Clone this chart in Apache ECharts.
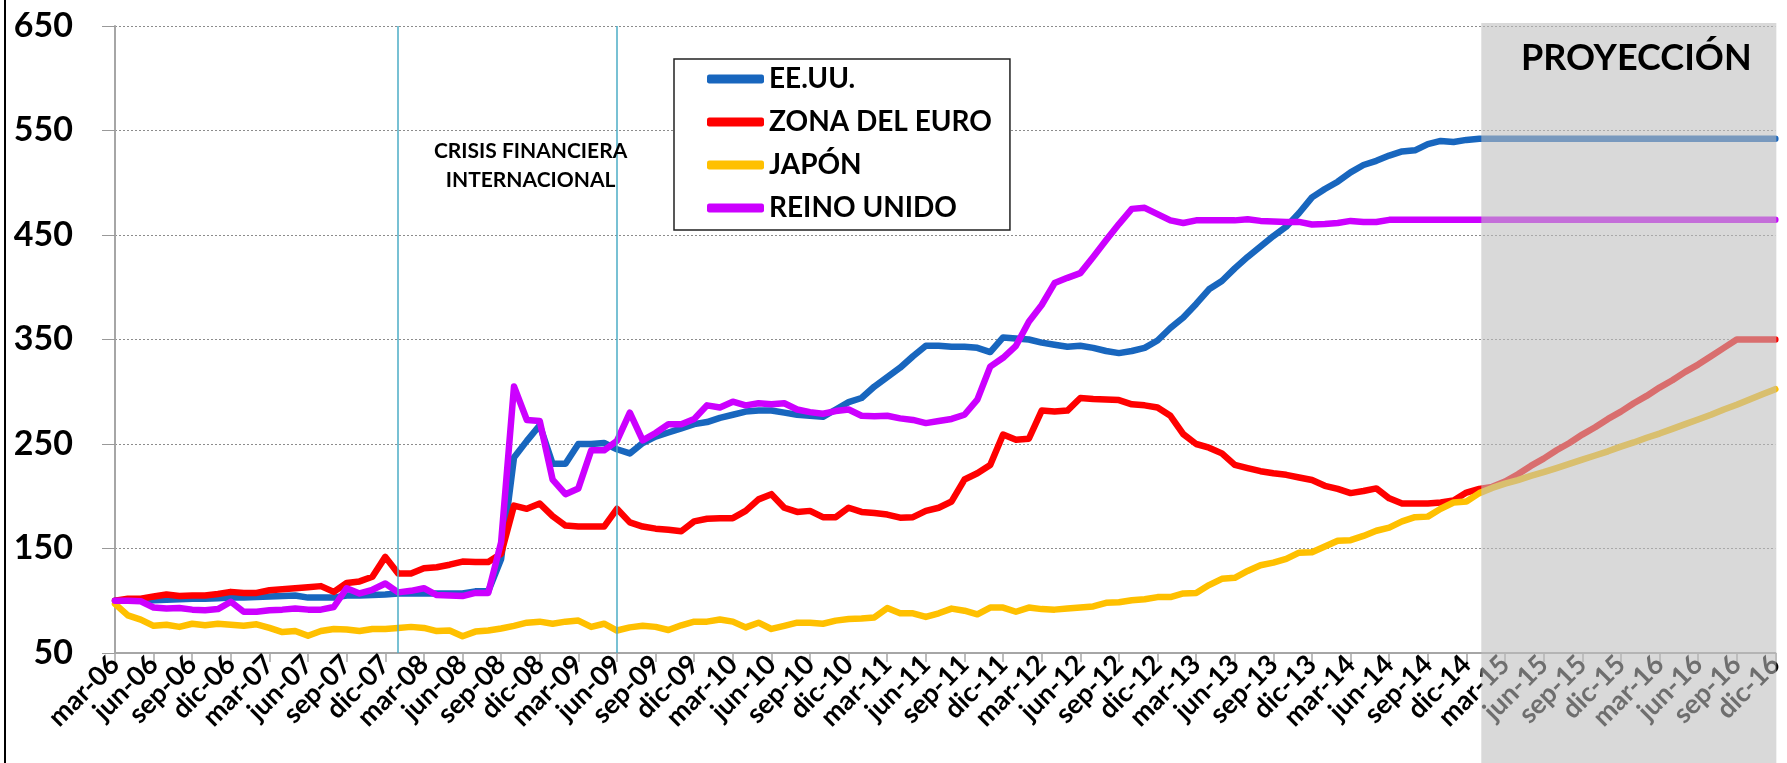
<!DOCTYPE html>
<html>
<head>
<meta charset="utf-8">
<script src="https://cdn.jsdelivr.net/npm/echarts@6/dist/echarts.min.js"></script>
<style>
html,body{margin:0;padding:0;background:#fff;}
#c{width:1787px;height:763px;}
</style>
</head>
<body>
<div id="c"></div>
<script>
// Categories (monthly, mar-06 .. dic-16)
var categories = [
'mar-06','abr-06','may-06','jun-06','jul-06','ago-06','sep-06','oct-06','nov-06','dic-06',
'ene-07','feb-07','mar-07','abr-07','may-07','jun-07','jul-07','ago-07','sep-07','oct-07','nov-07','dic-07',
'ene-08','feb-08','mar-08','abr-08','may-08','jun-08','jul-08','ago-08','sep-08','oct-08','nov-08','dic-08',
'ene-09','feb-09','mar-09','abr-09','may-09','jun-09','jul-09','ago-09','sep-09','oct-09','nov-09','dic-09',
'ene-10','feb-10','mar-10','abr-10','may-10','jun-10','jul-10','ago-10','sep-10','oct-10','nov-10','dic-10',
'ene-11','feb-11','mar-11','abr-11','may-11','jun-11','jul-11','ago-11','sep-11','oct-11','nov-11','dic-11',
'ene-12','feb-12','mar-12','abr-12','may-12','jun-12','jul-12','ago-12','sep-12','oct-12','nov-12','dic-12',
'ene-13','feb-13','mar-13','abr-13','may-13','jun-13','jul-13','ago-13','sep-13','oct-13','nov-13','dic-13',
'ene-14','feb-14','mar-14','abr-14','may-14','jun-14','jul-14','ago-14','sep-14','oct-14','nov-14','dic-14',
'ene-15','feb-15','mar-15','abr-15','may-15','jun-15','jul-15','ago-15','sep-15','oct-15','nov-15','dic-15',
'ene-16','feb-16','mar-16','abr-16','may-16','jun-16','jul-16','ago-16','sep-16','oct-16','nov-16','dic-16'
];

var seriesNames = ['EE.UU.', 'ZONA DEL EURO', 'JAPÓN', 'REINO UNIDO'];

var eeuu = [
100,100,100,100.5,101,101.5,102,102,102.5,103,
103,103.5,104,104.5,105,103,103,103,105,105,105.5,106,
107,107,107,107,107,107,109,109,140,237,253,268,
231,231,250,250,251,245,241,251,257,261,265,269,
271,275,278,281,282,282,280,278,277,276,283,290,
294,305,314,323,334,344,344,343,343,342,338,352,
351,350,347,345,343,344,342,339,337,339,342,349,
361,371,384,398,406,418,429,439,449,458,471,486,
494,501,510,517,521,526,530,531,537,540,539,541,
542,542,542,542,542,542,542,542,542,542,542,542,
542,542,542,542,542,542,542,542,542,542,542,542
];

var zonaEuro = [
100,102,102,104,106,104.5,105,105,106.5,108.5,
107.5,107.5,110,111,112,113,114,108.5,117,118.5,123,142,
126,126,131,132,134.5,137.5,137,137,145,191,188,193,
181,172,171,171,171,188,175,171,169,168,166.5,176,
178.5,179,179,186,197,202,189,185,186,180,180,189,
185,184,182.5,179.5,180,186,189,195,216,222,230,259,
254,255,282,281,282,294,293,292.5,292,288,287,285,
277,259.5,250,246.5,241,230,227,224,222,220.5,218,215.5,
210,207,203,205,207.5,198,193,193,193,194,196,203.5,
207,209,214,221,229,236,244,251,259,266,274,281,
289,296,304,311,319,326,334,342,350,350,350,350
];

var japon = [
97,86,82,76,77,75,78,76.5,78,77,
76,77.5,74,70,71,66.5,71,73,72.5,71,73,73,
74,75,74,71,71.5,66,70.5,71.5,73.5,76,79,80,
78,80,81,75,78,71.5,74.5,76,75,72,76.5,80,
80,82,80,74.5,79,73,76,79,79,78,81,82.5,
83,84,93,88,88,84.5,88,92.5,90.5,87,93.5,93.5,
89.5,93.5,92,91.5,92.5,93.5,94.5,98,98.5,100.5,101.5,103.5,
103.5,107,107.5,115,121,122,128.5,134,136.5,140,146,146.5,
152,157.5,158,162,167,170,176,180,180.5,188,194,195,
203,208,212,215.5,219.5,223,227,231,235,239,243,247.5,
251.5,256,260,264.5,269,273.5,278,283,287.5,292.5,297.5,302.5
];

var reinoUnido = [
100,100,99.5,93.5,92.5,93,91.5,91,92,99,
89.5,89.5,91,91.5,92.5,91.5,91.5,94,112,107,110.5,116.5,
108,109.5,112,105.5,105,104.5,107.5,107.5,156,305,273,272,
216,202,207.5,244,244,253,280,253.5,260.5,269,269,274,
287,285,290.5,287,289,288,289,283,280.5,279,281.5,283,
277,276.5,277,274.5,273,270,272,274,278,292.5,324,332.5,
344,367,383,404,409,413.5,429,445,460.5,475,476,470,
464,461.5,464,464,464,464,465,463.5,463,462.5,462.5,460,
460.5,461.5,463.5,462.5,462.5,464.5,464.5,464.5,464.5,464.5,464.5,464.5,
464.5,464.5,464.5,464.5,464.5,464.5,464.5,464.5,464.5,464.5,464.5,464.5,
464.5,464.5,464.5,464.5,464.5,464.5,464.5,464.5,464.5,464.5,464.5,464.5
];

var yTicks = [50, 150, 250, 350, 450, 550, 650];
var crisisMarks = ['ene-08', 'jun-09'];
var projectionStart = 'ene-15';
var crisisText = 'CRISIS FINANCIERA\nINTERNACIONAL';
var projectionText = 'PROYECCIÓN';

var colors = ['#1866BE', '#FF0000', '#FFC000', '#CC00FF'];
var FONT = 'Lato';

var chart = echarts.init(document.getElementById('c'), null, {renderer: 'canvas'});

function mkSeries(name, data, color, extra) {
  var s = {
    name: name, type: 'line', data: data, symbol: 'none', showSymbol: false, smooth: false,
    lineStyle: {width: 6.5, color: color, cap: 'round', join: 'round'},
    itemStyle: {color: color},
    emphasis: {disabled: true}, animation: false
  };
  if (extra) for (var k in extra) s[k] = extra[k];
  return s;
}

var option = {
  backgroundColor: '#fff',
  animation: false,
  color: colors,
  grid: {left: 115, right: 7, top: 26, bottom: 110, containLabel: false},
  legend: {
    data: seriesNames,
    orient: 'vertical',
    left: 674, top: 59,
    backgroundColor: '#fff',
    borderColor: '#222', borderWidth: 1.5, borderRadius: 0,
    padding: [5, 18, 7, 33],
    icon: 'roundRect',
    itemWidth: 57, itemHeight: 9, itemGap: 13,
    textStyle: {fontFamily: FONT, fontWeight: 'bold', fontSize: 28, color: '#000', lineHeight: 30},
    selectedMode: false
  },
  xAxis: {
    type: 'category', data: categories, boundaryGap: false,
    axisLine: {show: true, lineStyle: {color: '#A6A6A6', width: 2}},
    axisTick: {show: true, interval: 2, length: 9, lineStyle: {color: '#A6A6A6', width: 1.5}},
    axisLabel: {interval: 2, rotate: 45, margin: 7, color: '#000',
      fontFamily: FONT, fontWeight: 'bold', fontSize: 27},
    splitLine: {show: false}
  },
  yAxis: {
    type: 'value', min: yTicks[0], max: yTicks[yTicks.length - 1], interval: 100,
    axisLine: {show: true, lineStyle: {color: '#A6A6A6', width: 2}},
    axisTick: {show: true, length: 13, lineStyle: {color: '#999', width: 1}},
    axisLabel: {margin: 42, color: '#000', fontFamily: FONT, fontWeight: 'bold', fontSize: 34},
    splitLine: {show: true, lineStyle: {color: '#8c8c8c', width: 1, type: [2, 2]}}
  },
  series: [
    mkSeries(seriesNames[0], eeuu, colors[0], {
      markLine: {
        silent: true, symbol: 'none', animation: false,
        label: {show: false},
        lineStyle: {color: '#4BACC6', width: 1.5, type: 'solid'},
        data: crisisMarks.map(function (c) { return {xAxis: c}; })
      }
    }),
    mkSeries(seriesNames[1], zonaEuro, colors[1]),
    mkSeries(seriesNames[2], japon, colors[2]),
    mkSeries(seriesNames[3], reinoUnido, colors[3])
  ]
};
chart.setOption(option);

// Overlay for projection area and annotations
var xStart = chart.convertToPixel({xAxisIndex: 0}, projectionStart) + 2;
var xEnd = chart.convertToPixel({xAxisIndex: 0}, categories[categories.length - 1]);
var yTop = chart.convertToPixel({yAxisIndex: 0}, yTicks[yTicks.length - 1]) - 3;
var xCrisis1 = chart.convertToPixel({xAxisIndex: 0}, crisisMarks[0]);
var xCrisis2 = chart.convertToPixel({xAxisIndex: 0}, crisisMarks[1]);

chart.setOption({
  graphic: [
    {type: 'line', z: 50, silent: true,
     shape: {x1: 5, y1: 0, x2: 5, y2: 763},
     style: {stroke: '#000', lineWidth: 2}},
    {type: 'rect', z: 100, silent: true,
     shape: {x: xStart, y: yTop, width: xEnd - xStart + 1, height: 763 - yTop},
     style: {fill: 'rgba(190,190,190,0.58)'}},
    {type: 'text', z: 101, silent: true,
     x: (xStart + xEnd) / 2 + 8, y: 58,
     style: {text: projectionText, fill: '#000', font: 'bold 36px ' + FONT,
       textAlign: 'center', textVerticalAlign: 'middle'}},
    {type: 'text', z: 101, silent: true,
     x: (xCrisis1 + xCrisis2) / 2 + 23, y: 166,
     style: {text: crisisText, fill: '#000', font: 'bold 21px ' + FONT,
       textAlign: 'center', textVerticalAlign: 'middle', lineHeight: 29}}
  ]
});
</script>
</body>
</html>
